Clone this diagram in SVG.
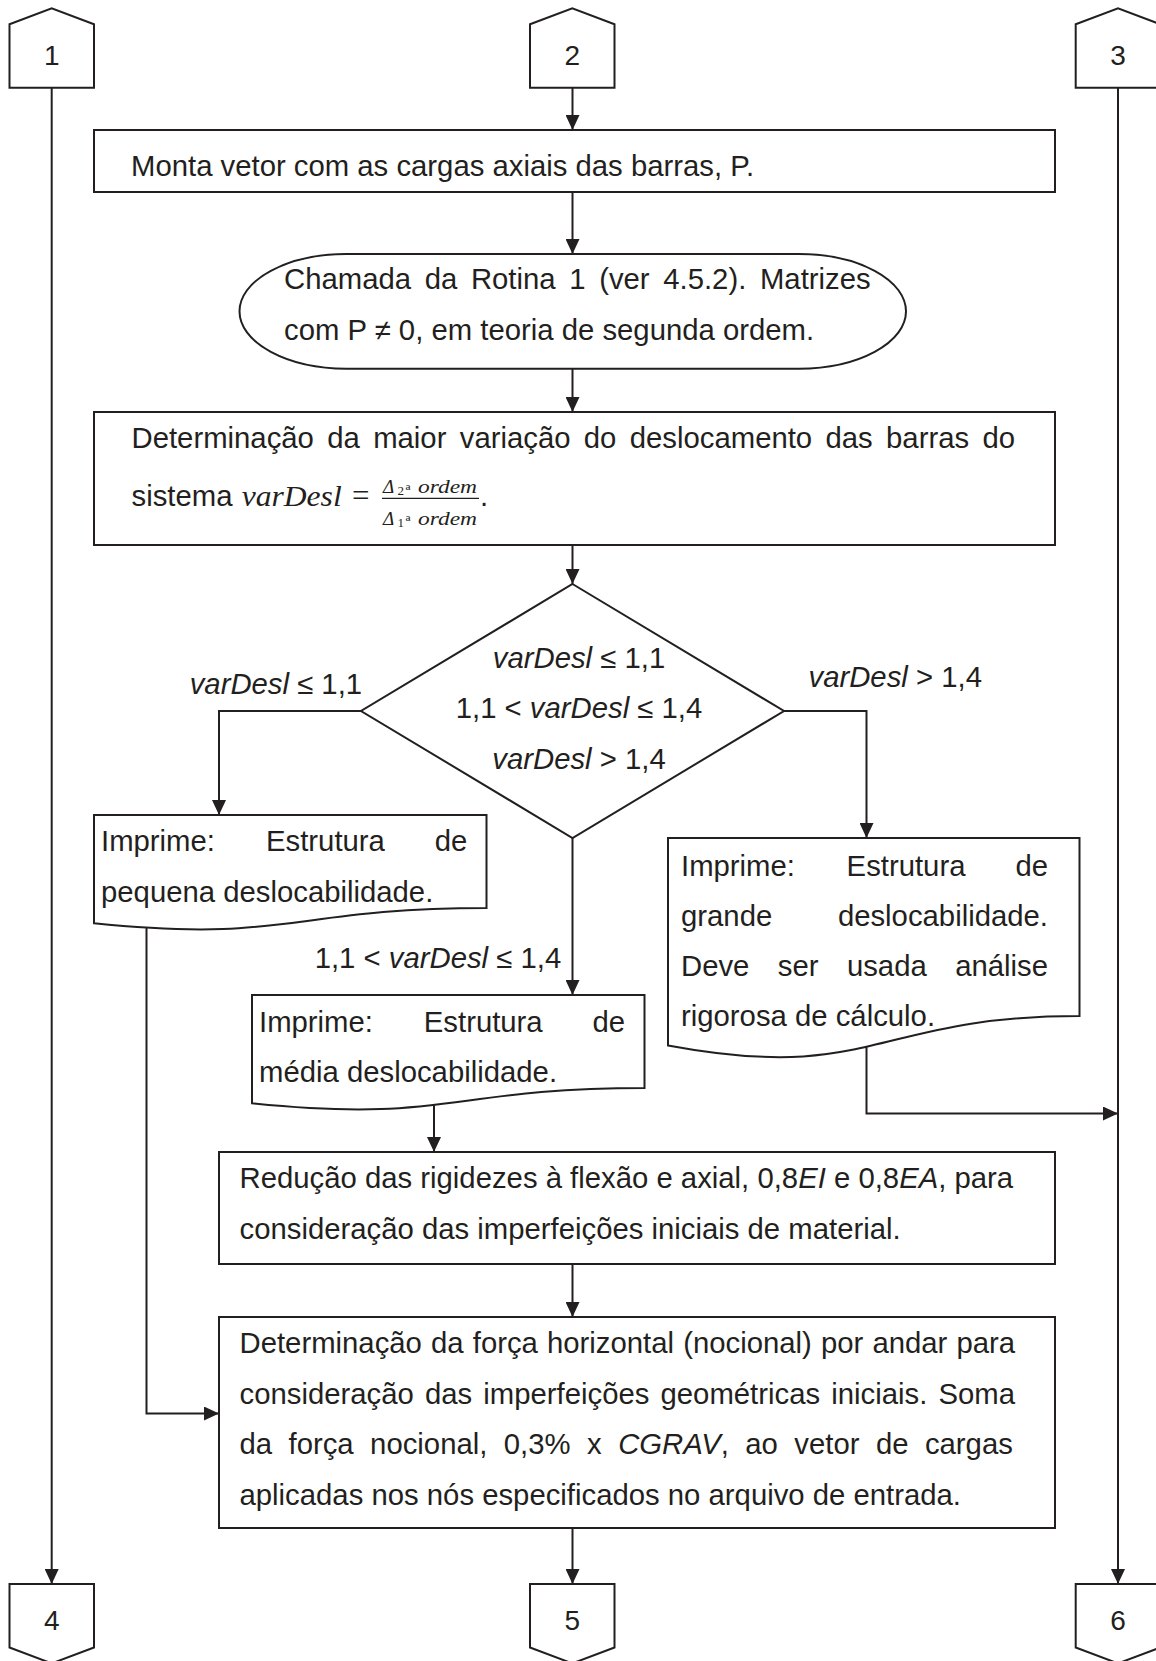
<svg xmlns="http://www.w3.org/2000/svg" width="1156" height="1661" viewBox="0 0 1156 1661">
  <defs>
    <marker id="arrow" markerUnits="userSpaceOnUse" markerWidth="15" markerHeight="14" refX="15" refY="7" orient="auto">
      <path d="M0,0 L15,7 L0,14 Z" fill="#231f20"/>
    </marker>
  </defs>
  <style>
    .shape { fill: #fff; stroke: #231f20; stroke-width: 2; }
    .link { fill: none; stroke: #231f20; stroke-width: 2; marker-end: url(#arrow); }
    text { font-family: "Liberation Sans", Arial, sans-serif; font-size: 29.3px; fill: #231f20; }
    .num { font-size: 28px; text-anchor: middle; }
    .it { font-style: italic; }
    .serif { font-family: "Liberation Serif", "Times New Roman", serif; }
    .math { font-family: "Liberation Serif", "Times New Roman", serif; font-style: italic; }
    .mid { text-anchor: middle; }
    .end { text-anchor: end; }
  </style>
  <rect width="1156" height="1661" fill="#fff"/>

  <!-- connectors -->
  <g id="connectors">
    <path class="link" d="M51.7,87.7 V1584"/>
    <path class="link" d="M572.5,87.7 V130"/>
    <path class="link" d="M572.5,192 V254"/>
    <path class="link" d="M572.5,368.7 V412"/>
    <path class="link" d="M572.5,545 V584"/>
    <path class="link" d="M361,711 H219 V815"/>
    <path class="link" d="M784,711 H866.5 V838"/>
    <path class="link" d="M572.5,838 V995"/>
    <path class="link" d="M146.5,928 V1413.5 H219"/>
    <path class="link" d="M434,1105 V1152"/>
    <path class="link" d="M866.5,1047 V1113.5 H1118"/>
    <path class="link" d="M572.5,1264 V1317"/>
    <path class="link" d="M572.5,1528 V1584"/>
    <path class="link" d="M1118,87.7 V1584"/>
  </g>

  <!-- off-page connectors -->
  <g id="conn-1">
    <path class="shape" d="M9.5,24.2 L51.7,8.3 L94,24.2 V87.7 H9.5 Z"/>
    <text class="num" x="51.7" y="65">1</text>
  </g>
  <g id="conn-2">
    <path class="shape" d="M530,24.2 L572.3,8.3 L614.5,24.2 V87.7 H530 Z"/>
    <text class="num" x="572.3" y="65">2</text>
  </g>
  <g id="conn-3">
    <path class="shape" d="M1075.7,24.2 L1118,8.3 L1160.3,24.2 V87.7 H1075.7 Z"/>
    <text class="num" x="1118" y="65">3</text>
  </g>
  <g id="conn-4">
    <path class="shape" d="M9.5,1584 H94 V1647.5 L51.7,1663.4 L9.5,1647.5 Z"/>
    <text class="num" x="51.7" y="1630">4</text>
  </g>
  <g id="conn-5">
    <path class="shape" d="M530,1584 H614.5 V1647.5 L572.3,1663.4 L530,1647.5 Z"/>
    <text class="num" x="572.3" y="1630">5</text>
  </g>
  <g id="conn-6">
    <path class="shape" d="M1075.7,1584 H1160.3 V1647.5 L1118,1663.4 L1075.7,1647.5 Z"/>
    <text class="num" x="1118" y="1630">6</text>
  </g>

  <!-- process steps -->
  <g id="monta-vetor">
    <rect class="shape" x="94" y="130" width="961" height="62"/>
    <text x="131" y="175.5">Monta vetor com as cargas axiais das barras, P.</text>
  </g>

  <g id="rotina-1">
    <rect class="shape" x="239.5" y="254" width="666.5" height="114.7" rx="107" ry="57.35"/>
    <text x="284" y="289" style="word-spacing:5.5px">Chamada da Rotina 1 (ver 4.5.2). Matrizes</text>
    <text x="284" y="340">com P ≠ 0, em teoria de segunda ordem.</text>
  </g>

  <g id="var-desl">
    <rect class="shape" x="94" y="412" width="961" height="133"/>
    <text x="131.5" y="448" style="word-spacing:5.2px">Determinação da maior variação do deslocamento das barras do</text>
    <text x="131.5" y="506">sistema</text>
    <text class="math" x="241.7" y="506" textLength="100" lengthAdjust="spacingAndGlyphs">varDesl</text>
    <text class="serif" x="352" y="506" style="font-size:31px">=</text>
    <line x1="382" y1="498.3" x2="479" y2="498.3" stroke="#231f20" stroke-width="1.3"/>
    <!-- numerator -->
    <text class="math" x="383" y="492.7" style="font-size:19px">Δ</text>
    <text class="serif" x="397.5" y="495" style="font-size:13px">2</text>
    <text class="serif" x="405.5" y="496.5" style="font-size:18px">ª</text>
    <text class="math" x="418" y="492.7" style="font-size:18px" textLength="59" lengthAdjust="spacingAndGlyphs">ordem</text>
    <!-- denominator -->
    <text class="math" x="383" y="524.5" style="font-size:19px">Δ</text>
    <text class="serif" x="397.5" y="526.5" style="font-size:13px">1</text>
    <text class="serif" x="405.5" y="528" style="font-size:18px">ª</text>
    <text class="math" x="418" y="524.5" style="font-size:18px" textLength="59" lengthAdjust="spacingAndGlyphs">ordem</text>
    <text x="480" y="506">.</text>
  </g>

  <!-- decision -->
  <g id="decisao">
    <polygon class="shape" points="572.5,584 784,711 572.5,838 361,711"/>
    <text class="mid" x="579" y="668"><tspan class="it">varDesl</tspan> ≤ 1,1</text>
    <text class="mid" x="579" y="718">1,1 &lt; <tspan class="it">varDesl</tspan> ≤ 1,4</text>
    <text class="mid" x="579" y="769"><tspan class="it">varDesl</tspan> &gt; 1,4</text>
  </g>

  <!-- branch labels -->
  <g id="labels">
    <text x="189.7" y="694"><tspan class="it">varDesl</tspan> ≤ 1,1</text>
    <text x="808.5" y="687"><tspan class="it">varDesl</tspan> &gt; 1,4</text>
    <text x="314.7" y="968">1,1 &lt; <tspan class="it">varDesl</tspan> ≤ 1,4</text>
  </g>

  <!-- printed outputs (document shapes) -->
  <g id="pequena">
    <path class="shape" d="M94,815 H486.5 V908 C290.3,908 290.3,943.4 94,923.3 Z"/>
    <text x="101" y="851">Imprime:</text>
    <text x="266" y="851">Estrutura</text>
    <text class="end" x="467.3" y="851">de</text>
    <text x="101" y="902">pequena deslocabilidade.</text>
  </g>

  <g id="media">
    <path class="shape" d="M252,995 H644.5 V1088 C448.3,1088 448.3,1123.4 252,1103.3 Z"/>
    <text x="259" y="1031.5">Imprime:</text>
    <text x="423.8" y="1031.5">Estrutura</text>
    <text class="end" x="625" y="1031.5">de</text>
    <text x="259" y="1082">média deslocabilidade.</text>
  </g>

  <g id="grande">
    <path class="shape" d="M668,838 H1079.5 V1016 C873.8,1016 873.8,1083.8 668,1045.4 Z"/>
    <text x="681" y="876">Imprime:</text>
    <text x="846.6" y="876">Estrutura</text>
    <text class="end" x="1048" y="876">de</text>
    <text x="681" y="926">grande</text>
    <text class="end" x="1048" y="926">deslocabilidade.</text>
    <text x="681" y="976">Deve</text>
    <text x="777.8" y="976">ser</text>
    <text x="846.9" y="976">usada</text>
    <text class="end" x="1048" y="976">análise</text>
    <text x="681" y="1026">rigorosa de cálculo.</text>
  </g>

  <g id="reducao-rigidez">
    <rect class="shape" x="219" y="1152" width="836" height="112"/>
    <text x="239.5" y="1188">Redução das rigidezes à flexão e axial, 0,8<tspan class="it">EI</tspan> e 0,8<tspan class="it">EA</tspan>, para</text>
    <text x="239.5" y="1238.5">consideração das imperfeições iniciais de material.</text>
  </g>

  <g id="forca-nocional">
    <rect class="shape" x="219" y="1317" width="836" height="211"/>
    <text x="239.5" y="1353" style="word-spacing:1px">Determinação da força horizontal (nocional) por andar para</text>
    <text x="239.5" y="1403.5" style="word-spacing:3px">consideração das imperfeições geométricas iniciais. Soma</text>
    <text x="239.5" y="1454" style="word-spacing:8.3px">da força nocional, 0,3% x <tspan class="it">CGRAV</tspan>, ao vetor de cargas</text>
    <text x="239.5" y="1504.5">aplicadas nos nós especificados no arquivo de entrada.</text>
  </g>
</svg>
